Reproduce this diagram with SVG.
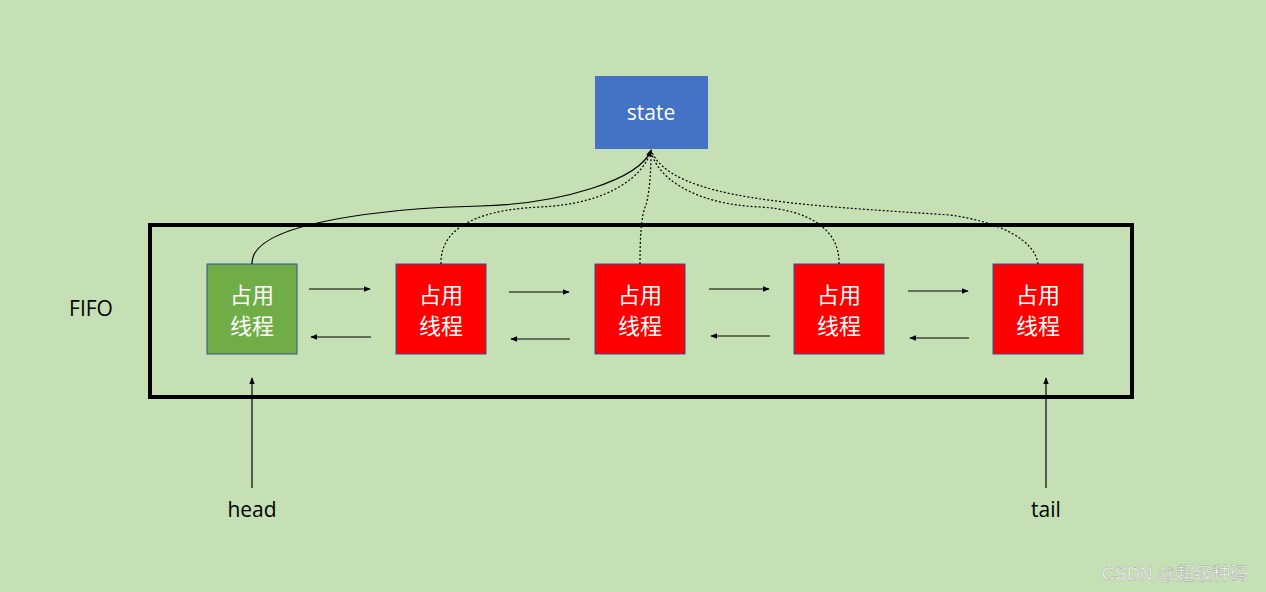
<svg xmlns="http://www.w3.org/2000/svg" width="1266" height="592" viewBox="0 0 1266 592">
<style>
.n{stroke:#2F5597;stroke-width:1}
.t{font-family:"Noto Sans CJK SC",sans-serif;font-size:22px;fill:#fff;text-anchor:middle}
.l{font-family:"Open Sans","Liberation Sans",sans-serif;font-size:21px;fill:#000;text-anchor:middle}
.a{stroke:#000;stroke-width:1.2;fill:none;marker-end:url(#ah)}
.c{stroke:#000;stroke-width:1.2;fill:none}
.d{stroke-dasharray:2 2}
</style>
<defs><marker id="ah" viewBox="0 0 10 10" refX="9" refY="5" markerWidth="6" markerHeight="6" orient="auto"><path d="M0,1L10,5L0,9z" fill="#000"/></marker></defs>
<rect width="1266" height="592" fill="#C5E0B4"/>
<rect x="150" y="225" width="982" height="172" fill="none" stroke="#000" stroke-width="4"/>
<text class="l" x="91" y="316">FIFO</text>
<g id="state"><rect x="595" y="76" width="113" height="73" fill="#4472C4"/><text x="651" y="120" font-family="Open Sans,Liberation Sans,sans-serif" font-size="21" fill="#fff" text-anchor="middle">state</text></g>
<g id="n1"><rect class="n" x="207" y="264" width="90" height="90" fill="#70AD47"/><text class="t" x="252" y="303">占用</text><text class="t" x="252" y="334">线程</text></g>
<g id="n2"><rect class="n" x="396" y="264" width="90" height="90" fill="#FF0000"/><text class="t" x="441" y="303">占用</text><text class="t" x="441" y="334">线程</text></g>
<g id="n3"><rect class="n" x="595" y="264" width="90" height="90" fill="#FF0000"/><text class="t" x="640" y="303">占用</text><text class="t" x="640" y="334">线程</text></g>
<g id="n4"><rect class="n" x="794" y="264" width="90" height="90" fill="#FF0000"/><text class="t" x="839" y="303">占用</text><text class="t" x="839" y="334">线程</text></g>
<g id="n5"><rect class="n" x="993" y="264" width="90" height="90" fill="#FF0000"/><text class="t" x="1038" y="303">占用</text><text class="t" x="1038" y="334">线程</text></g>
<text class="l" x="252" y="517">head</text>
<text class="l" x="1046" y="517">tail</text>
<g id="connectors">
<path class="a" d="M252,264 C250,220 400,208 480,206 C560,204 640,180 651,150"/>
<path class="c d" d="M441,264 C440,232 470,210 540,207 C610,204 645,175 651,150"/>
<path class="c d" d="M640,264 C640,240 641,215 646,205 C650,190 651,170 651,150"/>
<path class="c d" d="M839,264 C840,230 810,210 760,207 C690,204 655,175 651,150"/>
<path class="c d" d="M1038,264 C1035,240 1000,222 950,215 C800,205 670,200 651,150"/>
<path class="a" d="M309,289H370"/><path class="a" d="M371,337H311"/>
<path class="a" d="M509,292H569"/><path class="a" d="M570,339H511"/>
<path class="a" d="M709,289H769"/><path class="a" d="M770,336H711"/>
<path class="a" d="M908,291H968"/><path class="a" d="M969,338H910"/>
<path class="a" d="M252,488V378"/>
<path class="a" d="M1046,488V378"/>
</g>
<text x="1175" y="580" font-family="Liberation Sans,Noto Sans CJK SC,sans-serif" font-size="18" fill="#fff" stroke="#999" stroke-width="0.4" text-anchor="middle">CSDN @超级种码</text>
</svg>
